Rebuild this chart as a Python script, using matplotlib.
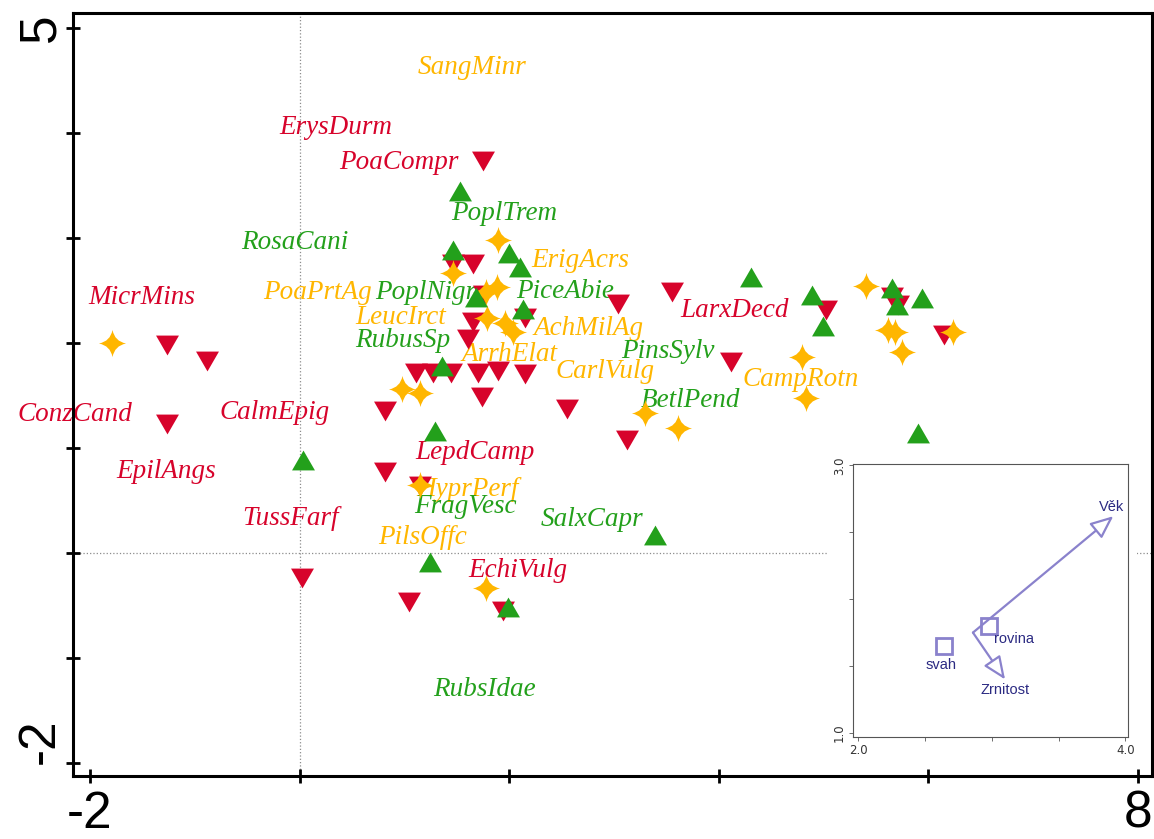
import matplotlib
matplotlib.use('Agg')
import matplotlib.pyplot as plt
import matplotlib.transforms as mtransforms
from matplotlib.path import Path
from matplotlib.patches import Rectangle

# ---------------------------------------------------------------------------------------------------------------------
# ordination scores
# red group (down triangles)
red_x = [1.75, -1.27, -0.88, -1.27, 0.02, 0.81, 0.81, 1.15, 1.04, 1.94, 1.46, 1.65, 1.76, 1.65, 1.61, 2.15,
         1.11, 1.27, 1.44, 1.70, 1.89, 2.15, 1.74, 2.55, 3.12, 3.04, 3.55, 4.12, 5.02, 5.65, 5.71, 6.15]
red_y = [3.73, 1.98, 1.83, 1.23, -0.24, 1.35, 0.77, 0.64, -0.47, -0.55, 2.75, 2.75, 2.46, 2.20, 2.04, 2.24,
         1.71, 1.71, 1.71, 1.71, 1.73, 1.70, 1.49, 1.37, 1.08, 2.37, 2.49, 1.82, 2.31, 2.44, 2.36, 2.08]

# green group (up triangles)
green_x = [1.53, 1.46, 2.00, 2.10, 1.68, 2.13, 1.36, 1.29, 0.03, 1.24, 1.99, 3.39, 4.31, 4.89, 4.99,
           5.65, 5.70, 5.94, 5.90]
green_y = [3.45, 2.89, 2.86, 2.72, 2.44, 2.32, 1.78, 1.16, 0.89, -0.09, -0.51, 0.17, 2.63, 2.46, 2.16,
           2.52, 2.36, 2.43, 1.14]

# orange group (stars)
orange_x = [-1.79, 1.89, 1.46, 1.78, 1.88, 1.79, 1.96, 2.04, 0.98, 1.15, 1.15, 1.78, 3.30, 3.61, 4.79,
            4.83, 5.40, 5.61, 5.68, 5.75, 6.23]
orange_y = [2.00, 2.98, 2.67, 2.49, 2.53, 2.24, 2.19, 2.10, 1.56, 1.52, 0.65, -0.33, 1.33, 1.19, 1.87,
            1.48, 2.54, 2.12, 2.10, 1.91, 2.10]

# species labels
red_names = ['ErysDurm', 'PoaCompr', 'MicrMins', 'ConzCand', 'CalmEpig', 'EpilAngs', 'TussFarf',
             'LepdCamp', 'EchiVulg', 'LarxDecd']
red_lx = [0.35, 0.95, -1.51, -2.14, -0.24, -1.27, -0.09, 1.67, 2.08, 4.15]
red_ly = [4.05, 3.72, 2.43, 1.32, 1.34, 0.78, 0.33, 0.96, -0.17, 2.31]

orange_names = ['SangMinr', 'ErigAcrs', 'PoaPrtAg', 'LeucIrct', 'AchMilAg', 'ArrhElat', 'CarlVulg',
                'CampRotn', 'HyprPerf', 'PilsOffc']
orange_lx = [1.65, 2.68, 0.17, 0.96, 2.76, 2.00, 2.91, 4.78, 1.60, 1.17]
orange_ly = [4.62, 2.79, 2.48, 2.24, 2.14, 1.89, 1.73, 1.65, 0.60, 0.15]

green_names = ['PoplTrem', 'RosaCani', 'PoplNigr', 'PiceAbie', 'RubusSp', 'PinsSylv', 'BetlPend',
               'FragVesc', 'SalxCapr', 'RubsIdae']
green_lx = [1.95, -0.05, 1.20, 2.53, 0.98, 3.51, 3.73, 1.58, 2.79, 1.76]
green_ly = [3.23, 2.96, 2.48, 2.49, 2.02, 1.92, 1.45, 0.44, 0.32, -1.30]

# environmental variables for the inset
env_names = ['Věk', 'Zrnitost']
env_x0, env_y0 = 2.86, 1.75
env_x = [3.91, 3.10]
env_y = [2.62, 1.40]
env_lx = [3.90, 3.10]
env_ly = [2.69, 1.32]

cent_names = ['rovina', 'svah']
cent_x = [2.98, 2.646]
cent_y = [1.80, 1.65]
cent_lx = [3.17, 2.62]
cent_ly = [1.70, 1.51]

RED = '#d7032b'
GREEN = '#23a01b'
ORANGE = '#ffb600'
LAV = '#8a82cc'
NAVY = '#2b2a82'

# ---------------------------------------------------------------------------------------------------------------------
# marker shapes
h = 0.866
up_tri = Path([(-1, -h), (1, -h), (0, h), (-1, -h)],
              [Path.MOVETO, Path.LINETO, Path.LINETO, Path.CLOSEPOLY])
down_tri = Path([(-1, h), (1, h), (0, -h), (-1, h)],
                [Path.MOVETO, Path.LINETO, Path.LINETO, Path.CLOSEPOLY])
c = 0.16
star4 = Path([(0, 1), (c, c), (1, 0), (c, -c), (0, -1), (-c, -c), (-1, 0), (-c, c), (0, 1), (0, 1)],
             [Path.MOVETO, Path.CURVE3, Path.CURVE3, Path.CURVE3, Path.CURVE3,
              Path.CURVE3, Path.CURVE3, Path.CURVE3, Path.CURVE3, Path.CLOSEPOLY])

fig = plt.figure(figsize=(11.54, 8.39), dpi=100)
ax = fig.add_axes([0.0633, 0.0751, 0.935, 0.9094])
ax.set_xlim(-2.162, 8.134)
ax.set_ylim(-2.124, 5.143)

ax.axvline(0, color='#8c8c8c', ls=':', lw=0.9, zorder=1)
ax.axhline(0, color='#8c8c8c', ls=':', lw=0.9, zorder=1)

lab_font = dict(family='Liberation Serif', style='italic', fontsize=19.5, ha='center', va='center', zorder=2)
for names, lx, ly, col in [(red_names, red_lx, red_ly, RED),
                           (orange_names, orange_lx, orange_ly, ORANGE),
                           (green_names, green_lx, green_ly, GREEN)]:
    for n, x, y in zip(names, lx, ly):
        ax.text(x, y, n, color=col, **lab_font)

ax.plot(red_x, red_y, ls='none', marker=down_tri, ms=16.5, color=RED, mew=0, zorder=3)
ax.plot(orange_x, orange_y, ls='none', marker=star4, ms=19.5, color=ORANGE, mew=0, zorder=3)
ax.plot(green_x, green_y, ls='none', marker=up_tri, ms=16.5, color=GREEN, mew=0, zorder=3)

for s in ax.spines.values():
    s.set_linewidth(2.2)
ax.set_xticks([-2, 0, 2, 4, 6, 8])
ax.set_xticklabels(['-2', '', '', '', '', '8'])
ax.set_yticks([-2, -1, 0, 1, 2, 3, 4, 5])
ax.set_yticklabels(['-2', '', '', '', '', '', '', '5'])
ax.tick_params(direction='inout', length=9.5, width=2.0, labelsize=37)
ax.tick_params(axis='x', pad=5)
ax.tick_params(axis='y', pad=1)
for t in ax.get_xticklabels() + ax.get_yticklabels():
    t.set_family('Liberation Sans')
plt.setp(ax.get_yticklabels(), rotation=90, va='center')
# the lowest y label sits a little above its tick in the reference
low = ax.get_yticklabels()[0]
low.set_transform(low.get_transform() + mtransforms.ScaledTranslation(0, 0.22, fig.dpi_scale_trans))

# ---------------------------------------------------------------------------------------------------------------------
# inset with environmental variables
fig.add_artist(Rectangle((828 / 1154, 1 - 760 / 839), (1137 - 828) / 1154, (760 - 455) / 839,
                         transform=fig.transFigure, fc='white', ec='none', zorder=1))
ins = fig.add_axes([0.7392, 0.1216, 0.2383, 0.3254], zorder=2)
ins.set_xlim(1.963, 4.02)
ins.set_ylim(0.97, 3.01)
for s in ins.spines.values():
    s.set_linewidth(0.8)
    s.set_color('#555555')
ins.set_xticks([2.0, 2.5, 3.0, 3.5, 4.0])
ins.set_xticklabels(['2.0', '', '', '', '4.0'])
ins.set_yticks([1.0, 1.5, 2.0, 2.5, 3.0])
ins.set_yticklabels(['1.0', '', '', '', '3.0'])
ins.tick_params(length=3, width=0.6, color='#555555', labelsize=8.5, labelcolor='#333333', pad=2)
plt.setp(ins.get_yticklabels(), rotation=90, va='center')

for n, x, y, lx, ly in zip(env_names, env_x, env_y, env_lx, env_ly):
    ins.annotate('', xy=(x, y), xytext=(env_x0, env_y0),
                 arrowprops=dict(arrowstyle='-|>,head_length=1.4,head_width=0.6', ec=LAV, fc='white',
                                 lw=1.6, shrinkA=0, shrinkB=0))
    ins.text(lx, ly, n, color=NAVY, fontsize=10.5, family='Liberation Sans', ha='center', va='center')

ins.plot(cent_x, cent_y, ls='none', marker='s', ms=11, mfc='none', mec=LAV, mew=2)
for n, lx, ly in zip(cent_names, cent_lx, cent_ly):
    ins.text(lx, ly, n, color=NAVY, fontsize=10.5, family='Liberation Sans', ha='center', va='center')

fig.savefig('out.png', dpi=100)
